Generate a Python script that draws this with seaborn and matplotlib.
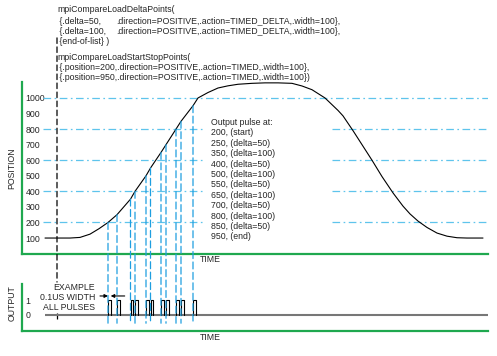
import numpy as np
import seaborn as sns
import matplotlib.pyplot as plt
from matplotlib.patches import ConnectionPatch

# --- data (time in arbitrary units) ---
curve_time = [23, 48, 58, 68, 77, 86, 95, 108.5, 113, 124, 128.5, 139, 144, 154, 159,
              165, 171, 176, 186, 196, 206, 216, 230, 243, 256, 270, 280, 290, 303,
              316, 321, 331, 340, 350, 360, 371, 381, 388, 396, 405, 415, 425, 435,
              445, 461]
curve_pos = [100, 100, 104, 125, 160, 200, 250, 350, 400, 500, 550, 650, 700, 800, 850,
             900, 950, 1000, 1035, 1064, 1078, 1088, 1094, 1097, 1097, 1094, 1077, 1053, 1000,
             920, 885, 790, 700, 600, 495, 390, 305, 255, 209, 168, 132, 112, 102,
             100, 100]

pulse_pos = [200, 250, 350, 400, 500, 550, 650, 700, 800, 850, 950]
pulse_time = [86, 95, 108.5, 113, 124, 128.5, 139, 144, 154, 159, 171]
pulse_note = ["(start)", "(delta=50)", "(delta=100)", "(delta=50)", "(delta=100)",
              "(delta=50)", "(delta=100)", "(delta=50)", "(delta=100)", "(delta=50)", "(end)"]
pulse_width = 2.7
start_time = 35

grid_levels = [200, 400, 600, 800, 1000]
pos_ticks = [100, 200, 300, 400, 500, 600, 700, 800, 900, 1000]
out_ticks = [0, 1]

code_lines = [
    "mpiCompareLoadDeltaPoints(",
    " {.delta=50,",
    " {.delta=100,",
    " {end-of-list} )",
    "mpiCompareLoadStartStopPoints(",
    " {.position=200,.direction=POSITIVE,.action=TIMED,.width=100},",
    " {.position=950,.direction=POSITIVE,.action=TIMED,.width=100})",
]
code_tail = ".direction=POSITIVE,.action=TIMED_DELTA,.width=100},"

GREEN = "#1fa84f"
CYAN_H = "#5ec4ec"
CYAN_V = "#1e9fe0"
W, H = 497, 356

sns.set_style("white")
plt.rcParams["font.family"] = ["Liberation Sans", "DejaVu Sans"]
plt.rcParams["lines.scale_dashes"] = False
FS = 6.3

fig = plt.figure(figsize=(W / 100, H / 100), dpi=100)
ax1 = fig.add_axes([22 / W, 1 - 253.6 / H, 466 / W, (253.6 - 82.4) / H])
ax2 = fig.add_axes([22 / W, 1 - 331 / H, 466 / W, (331 - 284) / H])

for ax in (ax1, ax2):
    ax.set_xlim(0, 466)
    ax.set_xticks([])
    ax.patch.set_alpha(0)
    for s in ("top", "right"):
        ax.spines[s].set_visible(False)
    for s in ("left", "bottom"):
        ax.spines[s].set_color(GREEN)
        ax.spines[s].set_linewidth(1.6)
    ax.tick_params(axis="y", length=0, pad=-2.5, labelsize=FS)

ax1.set_ylim(0, 1100)
ax1.set_yticks(pos_ticks)
ax1.set_yticklabels([str(v) for v in pos_ticks])
ax2.set_ylim(-1.07, 2.07)
ax2.set_yticks(out_ticks)
ax2.set_yticklabels([str(v) for v in out_ticks])
for ax in (ax1, ax2):
    for lbl in ax.get_yticklabels():
        lbl.set_ha("left")

# horizontal dash-dot guides, broken where the pulse list sits
dashdot = (0, (5.5, 2.5, 1.2, 2.5))
for lv in grid_levels:
    if lv == 1000:
        ax1.hlines(lv, 21, 466, color=CYAN_H, lw=0.9, linestyles=[dashdot])
    else:
        ax1.hlines(lv, 21, 183, color=CYAN_H, lw=0.9, linestyles=[dashdot])
        ax1.hlines(lv, 310, 466, color=CYAN_H, lw=0.9, linestyles=[dashdot])

# motion profile
sns.lineplot(x=curve_time, y=curve_pos, ax=ax1, color="k", lw=0.8,
             estimator=None, sort=False)
for line in ax1.lines:
    line.set_clip_on(False)

# vertical cyan dashed lines from the profile down through the output panel
for t, p in zip(pulse_time, pulse_pos):
    con = ConnectionPatch(xyA=(t, p), coordsA=ax1.transData,
                          xyB=(t, -0.55), coordsB=ax2.transData,
                          color=CYAN_V, lw=0.9, linestyle=(0, (5, 2.5)))
    fig.add_artist(con)

# black dashed start marker
con = ConnectionPatch(xyA=(start_time, 1386), coordsA=ax1.transData,
                      xyB=(start_time, 2.2), coordsB=ax2.transData,
                      color="k", lw=0.9, linestyle=(0, (4, 2.5)))
fig.add_artist(con)
ax2.vlines(start_time, -0.27, 0.13, color="k", lw=0.9, clip_on=False)

# output signal
ax2.hlines(0, curve_time[0], 466, color="#777777", lw=1.5)
px, py = [], []
for t in pulse_time:
    px += [t, t, t + pulse_width, t + pulse_width, np.nan]
    py += [0, 1, 1, 0, np.nan]
ax2.plot(px, py, color="k", lw=0.8)

ax2.annotate("", xy=(pulse_time[0], 1.27), xytext=(pulse_time[0] - 8, 1.27),
             arrowprops=dict(arrowstyle="-|>", color="k", lw=0.8,
                             mutation_scale=5, shrinkA=0, shrinkB=0),
             annotation_clip=False)
ax2.annotate("", xy=(pulse_time[0] + pulse_width, 1.27),
             xytext=(pulse_time[0] + pulse_width + 14, 1.27),
             arrowprops=dict(arrowstyle="-|>", color="k", lw=0.8,
                             mutation_scale=5, shrinkA=0, shrinkB=0),
             annotation_clip=False)

# text
for txt, y in zip(["EXAMPLE", "0.1US WIDTH", "ALL PULSES"], [287, 297, 307]):
    fig.text(95 / W, 1 - y / H, txt, ha="right", va="center", fontsize=FS)

code_y = [10, 21, 31, 41, 57, 67.5, 78]
for i, (txt, y) in enumerate(zip(code_lines, code_y)):
    fig.text(57 / W, 1 - y / H, txt, ha="left", va="center", fontsize=FS)
    if i in (1, 2):
        fig.text(116 / W, 1 - y / H, code_tail, ha="left", va="center", fontsize=FS)

pulse_text = "Output pulse at:\n" + "\n".join(
    f"{p}, {n}" for p, n in zip(pulse_pos, pulse_note))
fig.text(211 / W, 1 - 118 / H, pulse_text, ha="left", va="top",
         fontsize=FS, linespacing=1.2)

fig.text(12 / W, 1 - 168 / H, "POSITION", rotation=90, ha="center", va="center", fontsize=FS)
fig.text(12 / W, 1 - 303 / H, "OUTPUT", rotation=90, ha="center", va="center", fontsize=FS)
fig.text(200 / W, 1 - 260 / H, "TIME", ha="left", va="center", fontsize=FS)
fig.text(200 / W, 1 - 338 / H, "TIME", ha="left", va="center", fontsize=FS)

fig.savefig("out.png", dpi=100)
